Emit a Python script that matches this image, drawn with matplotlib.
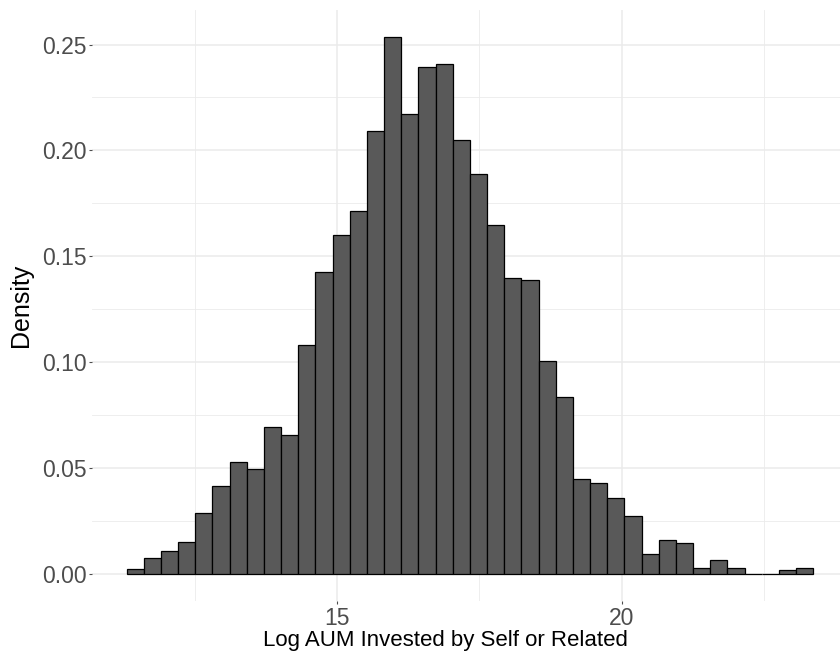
import numpy as np
import matplotlib.pyplot as plt

plt.rcParams['font.family'] = ['Liberation Sans', 'DejaVu Sans']

## Data
bin_start = 11.297
bin_width = 0.3018
density = [0.0022, 0.0074, 0.0108, 0.0150, 0.0290, 0.0418, 0.0527, 0.0498, 0.0694, 0.0655,
           0.1082, 0.1427, 0.1600, 0.1715, 0.2094, 0.2536, 0.2174, 0.2394, 0.2408, 0.2051,
           0.1887, 0.1647, 0.1400, 0.1387, 0.1008, 0.0837, 0.0449, 0.0429, 0.0359, 0.0272,
           0.0097, 0.0159, 0.0146, 0.0029, 0.0065, 0.0027, 0.0, 0.0, 0.0018, 0.0029]
x_ticks = [15, 20]
x_minor = [12.5, 17.5, 22.5]
y_ticks = [0.00, 0.05, 0.10, 0.15, 0.20, 0.25]
y_minor = [0.025, 0.075, 0.125, 0.175, 0.225]

n = len(density)
centers = bin_start + bin_width * (np.arange(n) + 0.5)

fig = plt.figure(figsize=(8.4, 6.55), dpi=100)
ax = fig.add_axes([92/840, 54/655, 748/840, 591/655])

ax.bar(centers, density, width=bin_width, color='#595959', edgecolor='black', linewidth=0.9, zorder=3)

ax.set_xlim(10.69, 23.84)
ax.set_ylim(-0.0127, 0.2663)

ax.set_xticks(x_ticks)
ax.set_xticks(x_minor, minor=True)
ax.set_yticks(y_ticks)
ax.set_yticks(y_minor, minor=True)
ax.set_yticklabels([f'{v:.2f}' for v in y_ticks])

ax.grid(which='major', color='#EBEBEB', linewidth=1.1, zorder=0)
ax.grid(which='minor', color='#EBEBEB', linewidth=0.6, zorder=0)
for s in ax.spines.values():
    s.set_visible(False)

ax.tick_params(which='major', length=2.5, width=0.8, color='#4D4D4D', labelcolor='#4D4D4D',
               labelsize=16.5, pad=1.5)
ax.tick_params(which='minor', length=0)

ax.set_xlabel('Log AUM Invested by Self or Related', fontsize=16, labelpad=0, x=0.472)
ax.set_ylabel('Density', fontsize=18, labelpad=6)

plt.savefig('out.png', dpi=100)
